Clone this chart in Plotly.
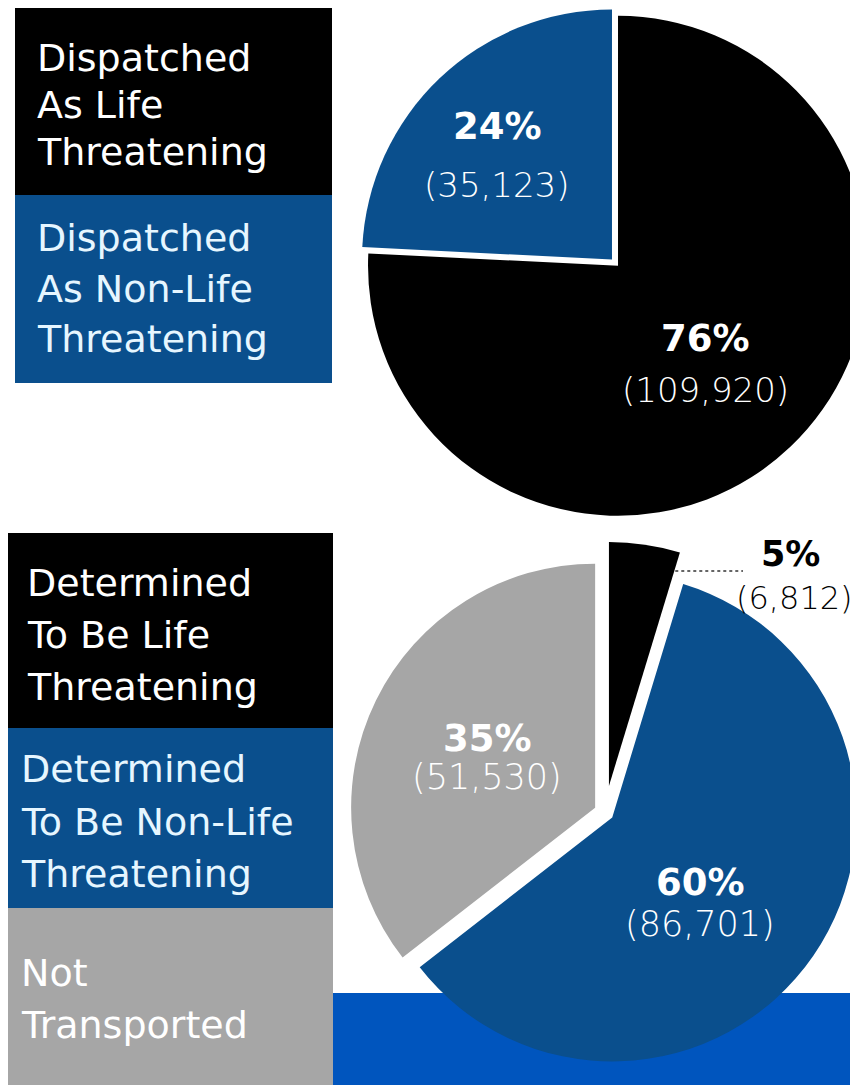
import numpy as np
import plotly.graph_objects as go

# ---------------- data ----------------
top_labels = ["Dispatched<br>As Life<br>Threatening",
              "Dispatched<br>As Non-Life<br>Threatening"]
top_values = [109920, 35123]
top_pct = [76, 24]

bottom_labels = ["Determined<br>To Be Life<br>Threatening",
                 "Determined<br>To Be Non-Life<br>Threatening",
                 "Not<br>Transported"]
bottom_values = [6812, 86701, 51530]
bottom_pct = [5, 60, 35]

# ---------------- styling ----------------
OFF = 8              # page body margin of the browser
W, H = 880, 1085     # figure size (right edge runs past the window, as in the reference)
BLACK = "#000000"
BLUE = "#0A4F8D"
GRAY = "#A6A6A6"
BANNER = "#0055BE"
FONT = "DejaVu Sans"

top_colors = [BLACK, BLUE]
bottom_colors = [BLACK, BLUE, GRAY]


def px(x):
    return (x - OFF) / W


def py(y):
    return 1 - (y - OFF) / H


def slice_geometry(values, pulls, cx, cy, r):
    vals = np.asarray(values, dtype=float)
    frac = vals / vals.sum()
    cum = np.concatenate([[0], np.cumsum(frac)])
    out = []
    for i in range(len(vals)):
        a0 = 90 - 360 * cum[i]
        a1 = 90 - 360 * cum[i + 1]
        b = np.radians((a0 + a1) / 2)
        vx = cx + pulls[i] * r * np.cos(b)
        vy = cy - pulls[i] * r * np.sin(b)
        out.append(dict(a0=a0, a1=a1, b=b, vx=vx, vy=vy))
    return out


fig = go.Figure()
shapes = []
annotations = []

# ---------------- background banner ----------------
shapes.append(dict(type="rect", xref="paper", yref="paper", layer="below",
                   x0=px(0), x1=px(900), y0=py(1100), y1=py(993),
                   fillcolor=BANNER, line=dict(width=0)))


# ---------------- pies ----------------
def add_pie(values, labels, colors, pulls, cx, cy, r):
    half = r * (1 + max(pulls))
    fig.add_trace(go.Pie(
        values=values,
        labels=[l.replace("<br>", " ") for l in labels],
        sort=False, direction="clockwise", rotation=0,
        pull=pulls,
        marker=dict(colors=colors, line=dict(width=0)),
        textinfo="none", showlegend=False,
        hoverinfo="label+value+percent",
        domain=dict(x=[px(cx - half), px(cx + half)],
                    y=[py(cy + half), py(cy - half)]),
    ))


top_pulls = [0.0175, 0.0175]
R1, CX1, CY1 = 250, 615, 262.6
add_pie(top_values, top_labels, top_colors, top_pulls, CX1, CY1, R1)

bottom_pulls = [0.11, 0.036, 0.045]
R2, CX2, CY2 = 244, 605, 812.5
add_pie(bottom_values, bottom_labels, bottom_colors, bottom_pulls, CX2, CY2, R2)


# ---------------- pie labels ----------------
def pie_label(x, y, pct, val, color, dy, size_p=37, size_v=34):
    annotations.append(dict(x=px(x), y=py(y - dy), xref="paper", yref="paper",
                            text=f"<b>{pct}%</b>", showarrow=False,
                            xanchor="center", yanchor="middle",
                            font=dict(family=FONT, size=size_p, color=color)))
    annotations.append(dict(x=px(x), y=py(y + dy), xref="paper", yref="paper",
                            text=f"({val:,})", showarrow=False,
                            xanchor="center", yanchor="middle",
                            font=dict(family=FONT, size=size_v, color=color,
                                      weight=300)))


g1 = slice_geometry(top_values, top_pulls, CX1, CY1, R1)
top_offsets = [(0.35, 0.394, 26), (-0.458, -0.414, 29)]
for i, g in enumerate(g1):
    ox, oy, dy = top_offsets[i]
    pie_label(g["vx"] + ox * R1, g["vy"] + oy * R1, top_pct[i], top_values[i], "white", dy)

g2 = slice_geometry(bottom_values, bottom_pulls, CX2, CY2, R2)
bottom_offsets = {1: (0.36, 0.352, 21), 2: (-0.443, -0.205, 19)}
for i, (ox, oy, dy) in bottom_offsets.items():
    g = g2[i]
    pie_label(g["vx"] + ox * R2, g["vy"] + oy * R2, bottom_pct[i], bottom_values[i],
              "white", dy, size_p=37, size_v=35)

# small slice: outside label with dotted leader
g = g2[0]
ly = 571
edge_x = g["vx"] + (g["vy"] - ly) / np.tan(np.radians(g["a1"]))
shapes.append(dict(type="line", xref="paper", yref="paper",
                   x0=px(edge_x + 1), x1=px(743), y0=py(ly), y1=py(ly),
                   line=dict(color="#333333", width=1.5, dash="dot")))
annotations.append(dict(x=px(790), y=py(554), xref="paper", yref="paper",
                        text=f"<b>{bottom_pct[0]}%</b>", showarrow=False,
                        xanchor="center", yanchor="middle",
                        font=dict(family=FONT, size=35, color=BLACK)))
annotations.append(dict(x=px(794), y=py(598), xref="paper", yref="paper",
                        text=f"({bottom_values[0]:,})", showarrow=False,
                        xanchor="center", yanchor="middle",
                        font=dict(family=FONT, size=32, color=BLACK, weight=300)))


# ---------------- legend boxes ----------------
def legend_box(x0, y0, x1, y1, fill, label, tx, mids, tcolor):
    shapes.append(dict(type="rect", xref="paper", yref="paper", layer="below",
                       x0=px(x0), x1=px(x1), y0=py(y1), y1=py(y0),
                       fillcolor=fill, line=dict(width=0)))
    for k, line in enumerate(label.split("<br>")):
        annotations.append(dict(x=px(tx), y=py(mids[k]),
                                xref="paper", yref="paper", text=line,
                                showarrow=False, xanchor="left", yanchor="middle",
                                font=dict(family=FONT, size=38, color=tcolor)))


legend_box(15, 5, 332, 195, BLACK, top_labels[0], 35, [57.5, 105, 152.5], "white")
legend_box(15, 195, 332, 383, BLUE, top_labels[1], 35, [238, 289, 339], "#E6F6FF")

legend_box(7, 533, 333, 728, BLACK, bottom_labels[0], 25, [583, 635, 687], "white")
legend_box(7, 728, 333, 908, BLUE, bottom_labels[1], 19, [769, 822, 874], "#E6F6FF")
legend_box(7, 908, 333, 1100, GRAY, bottom_labels[2], 19, [973, 1025], "white")

fig.update_layout(
    width=W, height=H,
    margin=dict(l=0, r=0, t=0, b=0),
    paper_bgcolor="white", plot_bgcolor="white",
    shapes=shapes, annotations=annotations,
    showlegend=False,
)

fig.write_html("out.html")
